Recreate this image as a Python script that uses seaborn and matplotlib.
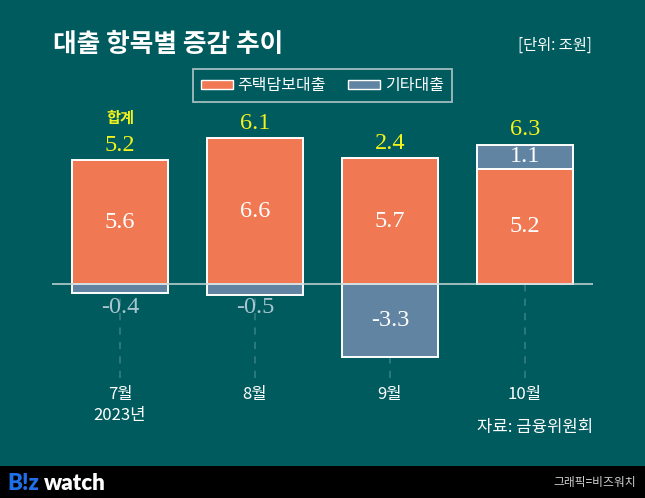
import matplotlib
matplotlib.use("Agg")
import matplotlib.pyplot as plt
import seaborn as sns
import pandas as pd
from matplotlib.patches import Rectangle

# ---- data ----
months = ["7월\n2023년", "8월", "9월", "10월"]
mortgage = [5.6, 6.6, 5.7, 5.2]      # 주택담보대출
other = [-0.4, -0.5, -3.3, 1.1]      # 기타대출
totals = [5.2, 6.1, 2.4, 6.3]        # 합계

BG = "#005B5F"
ORANGE = "#F07852"
BLUE = "#6284A3"
YELLOW = "#F2F21C"
SERIF = ["Liberation Serif", "DejaVu Serif"]

sns.set_theme(style="white")
plt.rcParams["font.family"] = ["Noto Sans CJK KR", "DejaVu Sans"]

W, H = 645, 498
fig = plt.figure(figsize=(W / 100, H / 100), dpi=100, facecolor=BG)
ax = fig.add_axes([52 / W, 1 - 378 / H, (593 - 52) / W, (378 - 100) / H])
ax.set_facecolor(BG)

df = pd.DataFrame({"month": months, "mortgage": mortgage, "other": other})
# stacked top of the 기타대출 segment (positive values stack on mortgage)
df["other_top"] = [o if o < 0 else m + o for m, o in zip(mortgage, other)]

bw = 0.716
sns.barplot(data=df, x="month", y="other_top", color=BLUE, saturation=1,
            width=bw, edgecolor="white", linewidth=1.4, ax=ax, zorder=2)
sns.barplot(data=df, x="month", y="mortgage", color=ORANGE, saturation=1,
            width=bw, edgecolor="white", linewidth=1.4, ax=ax, zorder=3)

ax.set_xlim(-0.504, 3.504)
ax.set_ylim(-4.253, 8.326)
ax.axhline(0, color="#C9D6D6", lw=1.1, zorder=4)

# dashed guide lines under each bar
bottoms = [min(0, o) for o in other]
ax.vlines(range(len(months)), ymin=ax.get_ylim()[0], ymax=bottoms,
          colors="#2F7B80", linestyles=(0, (4, 4)), lw=1.3, zorder=1)

for i, (m, o, t) in enumerate(zip(mortgage, other, totals)):
    ax.text(i, m / 2, f"{m}", ha="center", va="center", color="white",
            fontsize=17.5, family=SERIF, zorder=6)
    if o < 0:
        if abs(o) >= 1:
            ax.text(i, o / 2, f"{o}", ha="center", va="center", color="white",
                    fontsize=17.5, family=SERIF, zorder=6)
        else:
            ax.text(i, -1.05, f"{o}", ha="center", va="center", color="#A9C6D0",
                    fontsize=17.5, family=SERIF, zorder=6)
    else:
        ax.text(i, m + o / 2, f"{o}", ha="center", va="center", color="white",
                fontsize=17.5, family=SERIF, zorder=6)
    top = max(m, m + o)
    ax.text(i, top + 0.68, f"{t}", ha="center", va="center", color=YELLOW,
            fontsize=17.5, family=SERIF, zorder=6)

ax.text(0, 7.5, "합계", ha="center", va="center", color=YELLOW,
        fontsize=11, fontweight="bold", zorder=6)

ax.set_xlabel("")
ax.set_ylabel("")
ax.set_yticks([])
ax.set_xticks(range(len(months)))
ax.set_xticklabels(months, color="white", fontsize=12, linespacing=1.25)
ax.tick_params(axis="x", length=0, pad=6)
for s in ax.spines.values():
    s.set_visible(False)

# legend
handles = [Rectangle((0, 0), 1, 1, facecolor=ORANGE, edgecolor="white", lw=1),
           Rectangle((0, 0), 1, 1, facecolor=BLUE, edgecolor="white", lw=1)]
leg = fig.legend(handles, ["주택담보대출", "기타대출"], loc="center",
                 bbox_to_anchor=(0.5, 1 - 85.5 / H), ncol=2, frameon=True,
                 prop={"size": 11.5}, labelcolor="white",
                 handlelength=2.0, handleheight=0.45, handletextpad=0.3,
                 columnspacing=1.4, fancybox=False, borderpad=0.5,
                 borderaxespad=0)
leg.get_frame().set_facecolor(BG)
leg.get_frame().set_edgecolor("#C9D6D6")
leg.get_frame().set_linewidth(1.3)

# titles and notes
fig.text(53 / W, 1 - 44 / H, "대출 항목별 증감 추이", fontsize=18.5,
         fontweight="bold", color="white", ha="left", va="center")
fig.text(592 / W, 1 - 45 / H, "[단위: 조원]", fontsize=11, color="white",
         ha="right", va="center")
fig.text(593 / W, 1 - 427 / H, "자료: 금융위원회", fontsize=12, color="white",
         ha="right", va="center")

# footer bar
fig.patches.append(Rectangle((0, 0), 1, 32 / H, transform=fig.transFigure,
                             facecolor="black", edgecolor="none", zorder=0))
fig.text(7 / W, 1 - 483 / H, "B!z", fontsize=16, fontweight="heavy",
         color="#1F6FE8", ha="left", va="center", family=["Lato", "DejaVu Sans"])
fig.text(44 / W, 1 - 483 / H, "watch", fontsize=16, fontweight="heavy",
         color="white", ha="left", va="center", family=["Lato", "DejaVu Sans"])
fig.text(636 / W, 1 - 482 / H, "그래픽=비즈워치", fontsize=8.5, color="#D0D0D0",
         ha="right", va="center")

fig.savefig("out.png", dpi=100, facecolor=BG)
